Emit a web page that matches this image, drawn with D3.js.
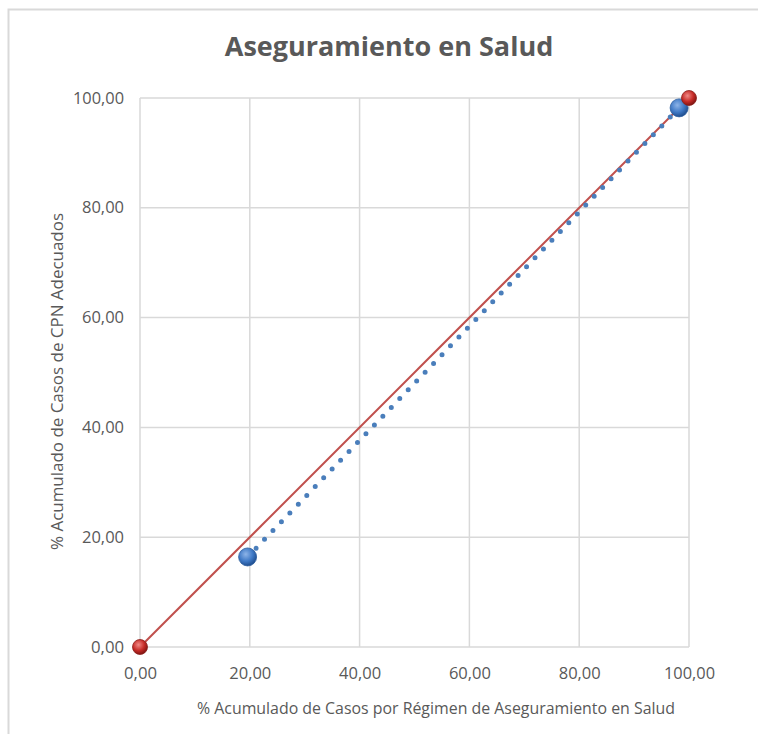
<!DOCTYPE html>
<html><head><meta charset="utf-8">
<script src="https://cdn.jsdelivr.net/npm/d3@7"></script>
<style>body{margin:0;background:#fff;}svg{display:block;}text{font-family:"Open Sans",sans-serif;}</style>
</head><body>
<div id="chart"></div>
<script>
const titleText = "Aseguramiento en Salud";
const xTitle = "% Acumulado de Casos por Régimen de Aseguramiento en Salud";
const yTitle = "% Acumulado de Casos de CPN Adecuados";
const xTicks = [0, 20, 40, 60, 80, 100];
const yTicks = [0, 20, 40, 60, 80, 100];
const blueX = [19.6, 98.2];
const blueY = [16.4, 98.2];
const redX = [0, 100];
const redY = [0, 100];

const W = 758, H = 734;
const svg = d3.select("#chart").append("svg").attr("width", W).attr("height", H);
const defs = svg.append("defs");
function grad(id, light, mid, dark){
  const g = defs.append("radialGradient").attr("id", id).attr("cx","40%").attr("cy","35%").attr("r","65%");
  g.append("stop").attr("offset","0%").attr("stop-color",light);
  g.append("stop").attr("offset","60%").attr("stop-color",mid);
  g.append("stop").attr("offset","100%").attr("stop-color",dark);
}
grad("gb", "#8db4e8", "#3f79c6", "#1f4e8f");
grad("gr", "#f08a86", "#c62b27", "#7f1512");

// outer border
svg.append("path").attr("d", `M8.5,${H} V9.5 H${W}`).attr("fill","none").attr("stroke","#d9d9d9").attr("stroke-width",2);

const x = d3.scaleLinear().domain([0,100]).range([140, 689]);
const y = d3.scaleLinear().domain([0,100]).range([647, 98]);
const fmt = d => d3.format(".2f")(d).replace(".", ",");

// grid
svg.append("g").selectAll("line").data(xTicks).join("line")
  .attr("x1", d=>x(d)).attr("x2", d=>x(d)).attr("y1", y(0)).attr("y2", y(100))
  .attr("stroke","#d9d9d9").attr("stroke-width",1.5);
svg.append("g").selectAll("line").data(yTicks).join("line")
  .attr("y1", d=>y(d)).attr("y2", d=>y(d)).attr("x1", x(0)).attr("x2", x(100))
  .attr("stroke","#d9d9d9").attr("stroke-width",1.5);

// axes (labels only)
const xa = svg.append("g").attr("transform", `translate(0,${y(0)})`)
  .call(d3.axisBottom(x).tickValues(xTicks).tickFormat(fmt).tickSize(0).tickPadding(21));
xa.select(".domain").remove();
xa.selectAll("text").attr("font-size",16).attr("fill","#595959").attr("font-family","'Open Sans',sans-serif")
  .attr("textLength", d => d === 100 ? 51 : 42).attr("lengthAdjust","spacingAndGlyphs");
const ya = svg.append("g").attr("transform", `translate(${x(0)},0)`)
  .call(d3.axisLeft(y).tickValues(yTicks).tickFormat(fmt).tickSize(0).tickPadding(16));
ya.select(".domain").remove();
ya.selectAll("text").attr("font-size",16).attr("fill","#595959").attr("font-family","'Open Sans',sans-serif")
  .attr("textLength", d => d === 100 ? 51 : (d === 0 ? 33 : 42)).attr("lengthAdjust","spacingAndGlyphs");
xa.selectAll("text").filter(d => d === 0).attr("textLength", 33);

// titles
svg.append("text").attr("x",389).attr("y",56).attr("text-anchor","middle")
  .attr("font-size",27).attr("font-weight","bold").attr("fill","#595959").text(titleText);
svg.append("text").attr("x",436).attr("y",714).attr("text-anchor","middle")
  .attr("font-size",16).attr("fill","#595959")
  .attr("textLength",478).attr("lengthAdjust","spacingAndGlyphs").text(xTitle);
svg.append("text").attr("transform","translate(63,381.5) rotate(-90)").attr("text-anchor","middle")
  .attr("font-size",16).attr("fill","#595959")
  .attr("textLength",337).attr("lengthAdjust","spacingAndGlyphs").text(yTitle);

// red line
const line = d3.line().x(d=>x(d[0])).y(d=>y(d[1]));
svg.append("path").datum(d3.zip(redX, redY)).attr("d", line)
  .attr("fill","none").attr("stroke","#c0504d").attr("stroke-width",2);
// blue dotted trend
svg.append("path").datum(d3.zip(blueX, blueY)).attr("d", line)
  .attr("fill","none").attr("stroke","#4a7ebb").attr("stroke-width",5)
  .attr("stroke-linecap","round").attr("stroke-dasharray","0,12.2");

// markers
svg.append("g").selectAll("circle").data(d3.zip(blueX, blueY)).join("circle")
  .attr("cx", d=>x(d[0])).attr("cy", d=>y(d[1])).attr("r",9)
  .attr("fill","url(#gb)").attr("stroke","#2c5d9e").attr("stroke-width",0.8);
svg.append("g").selectAll("circle").data(d3.zip(redX, redY)).join("circle")
  .attr("cx", d=>x(d[0])).attr("cy", d=>y(d[1])).attr("r",7.5)
  .attr("fill","url(#gr)").attr("stroke","#8c1f1c").attr("stroke-width",0.8);
</script>
</body></html>
